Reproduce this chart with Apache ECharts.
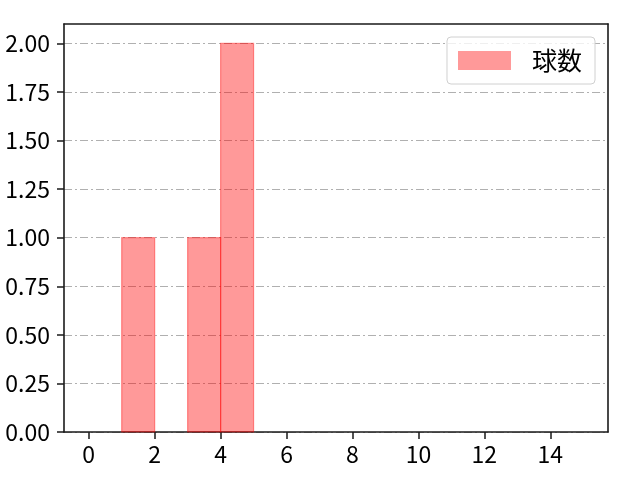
<!DOCTYPE html>
<html>
<head>
<meta charset="utf-8">
<script src="https://cdn.jsdelivr.net/npm/echarts@6/dist/echarts.min.js"></script>
<style>html,body{margin:0;padding:0;background:#fff;}#c{width:640px;height:480px;}</style>
</head>
<body>
<div id="c"></div>
<script>
var seriesName = '球数';
var binStarts = [1, 3, 4];
var binEnds = [2, 4, 5];
var counts = [1, 1, 2];
var xTicks = [0, 2, 4, 6, 8, 10, 12, 14];
var yTicks = [0, 0.25, 0.5, 0.75, 1.0, 1.25, 1.5, 1.75, 2.0];

var FONT = '"Noto Sans CJK JP", "Noto Sans", sans-serif';
var data = binStarts.map(function (s, i) { return [s, binEnds[i], counts[i]]; });

var chart = echarts.init(document.getElementById('c'), null, { renderer: 'canvas' });
var axisLineStyle = { color: '#1a1a1a', width: 1.6 };
chart.setOption({
  animation: false,
  backgroundColor: '#fff',
  grid: { left: 64, top: 24, right: 32, bottom: 48 },
  legend: {
    data: [{ name: seriesName, icon: 'rect' }],
    right: 45, top: 37,
    orient: 'vertical',
    itemWidth: 53, itemHeight: 19,
    padding: [11, 13, 11, 11],
    borderColor: '#d0d0d0', borderWidth: 1, borderRadius: 4,
    backgroundColor: 'rgba(255,255,255,0.8)',
    textStyle: { fontFamily: FONT, fontSize: 25, color: '#000', padding: [0, 0, 0, 16] }
  },
  xAxis: [{
    type: 'value', min: -0.75, max: 15.75,
    axisLine: { show: true, onZero: false, lineStyle: axisLineStyle },
    axisTick: { show: true, length: 7, lineStyle: { color: '#1a1a1a', width: 1.5 }, customValues: xTicks },
    axisLabel: { fontFamily: FONT, fontSize: 23, color: '#000', margin: 11, customValues: xTicks },
    splitLine: { show: false }
  }, {
    type: 'value', position: 'top', min: -0.75, max: 15.75,
    axisLine: { show: true, onZero: false, lineStyle: axisLineStyle },
    axisTick: { show: false }, axisLabel: { show: false }, splitLine: { show: false }
  }],
  yAxis: [{
    type: 'value', min: 0, max: 2.1, interval: 0.25,
    axisLine: { show: true, onZero: false, lineStyle: axisLineStyle },
    axisTick: { show: true, length: 7, lineStyle: { color: '#1a1a1a', width: 1.5 }, customValues: yTicks },
    axisLabel: { fontFamily: FONT, fontSize: 23, color: '#000', margin: 14, customValues: yTicks,
      formatter: function (v) { return v.toFixed(2); } },
    splitLine: { show: true, lineStyle: { color: '#b0b0b0', width: 1, type: [8, 3, 2, 3] } }
  }, {
    type: 'value', position: 'right', min: 0, max: 2.1,
    axisLine: { show: true, onZero: false, lineStyle: axisLineStyle },
    axisTick: { show: false }, axisLabel: { show: false }, splitLine: { show: false }
  }],
  series: [{
    name: seriesName,
    type: 'custom',
    itemStyle: { color: 'rgba(255,0,0,0.4)' },
    encode: { x: [0, 1], y: 2 },
    renderItem: function (params, api) {
      var p0 = api.coord([api.value(0), api.value(2)]);
      var p1 = api.coord([api.value(1), 0]);
      return {
        type: 'rect',
        shape: { x: p0[0], y: p0[1], width: p1[0] - p0[0], height: p1[1] - p0[1] },
        style: { fill: 'rgba(255,0,0,0.4)', stroke: 'rgba(255,0,0,0.4)', lineWidth: 1.2 }
      };
    },
    data: data
  }]
});
</script>
</body>
</html>
